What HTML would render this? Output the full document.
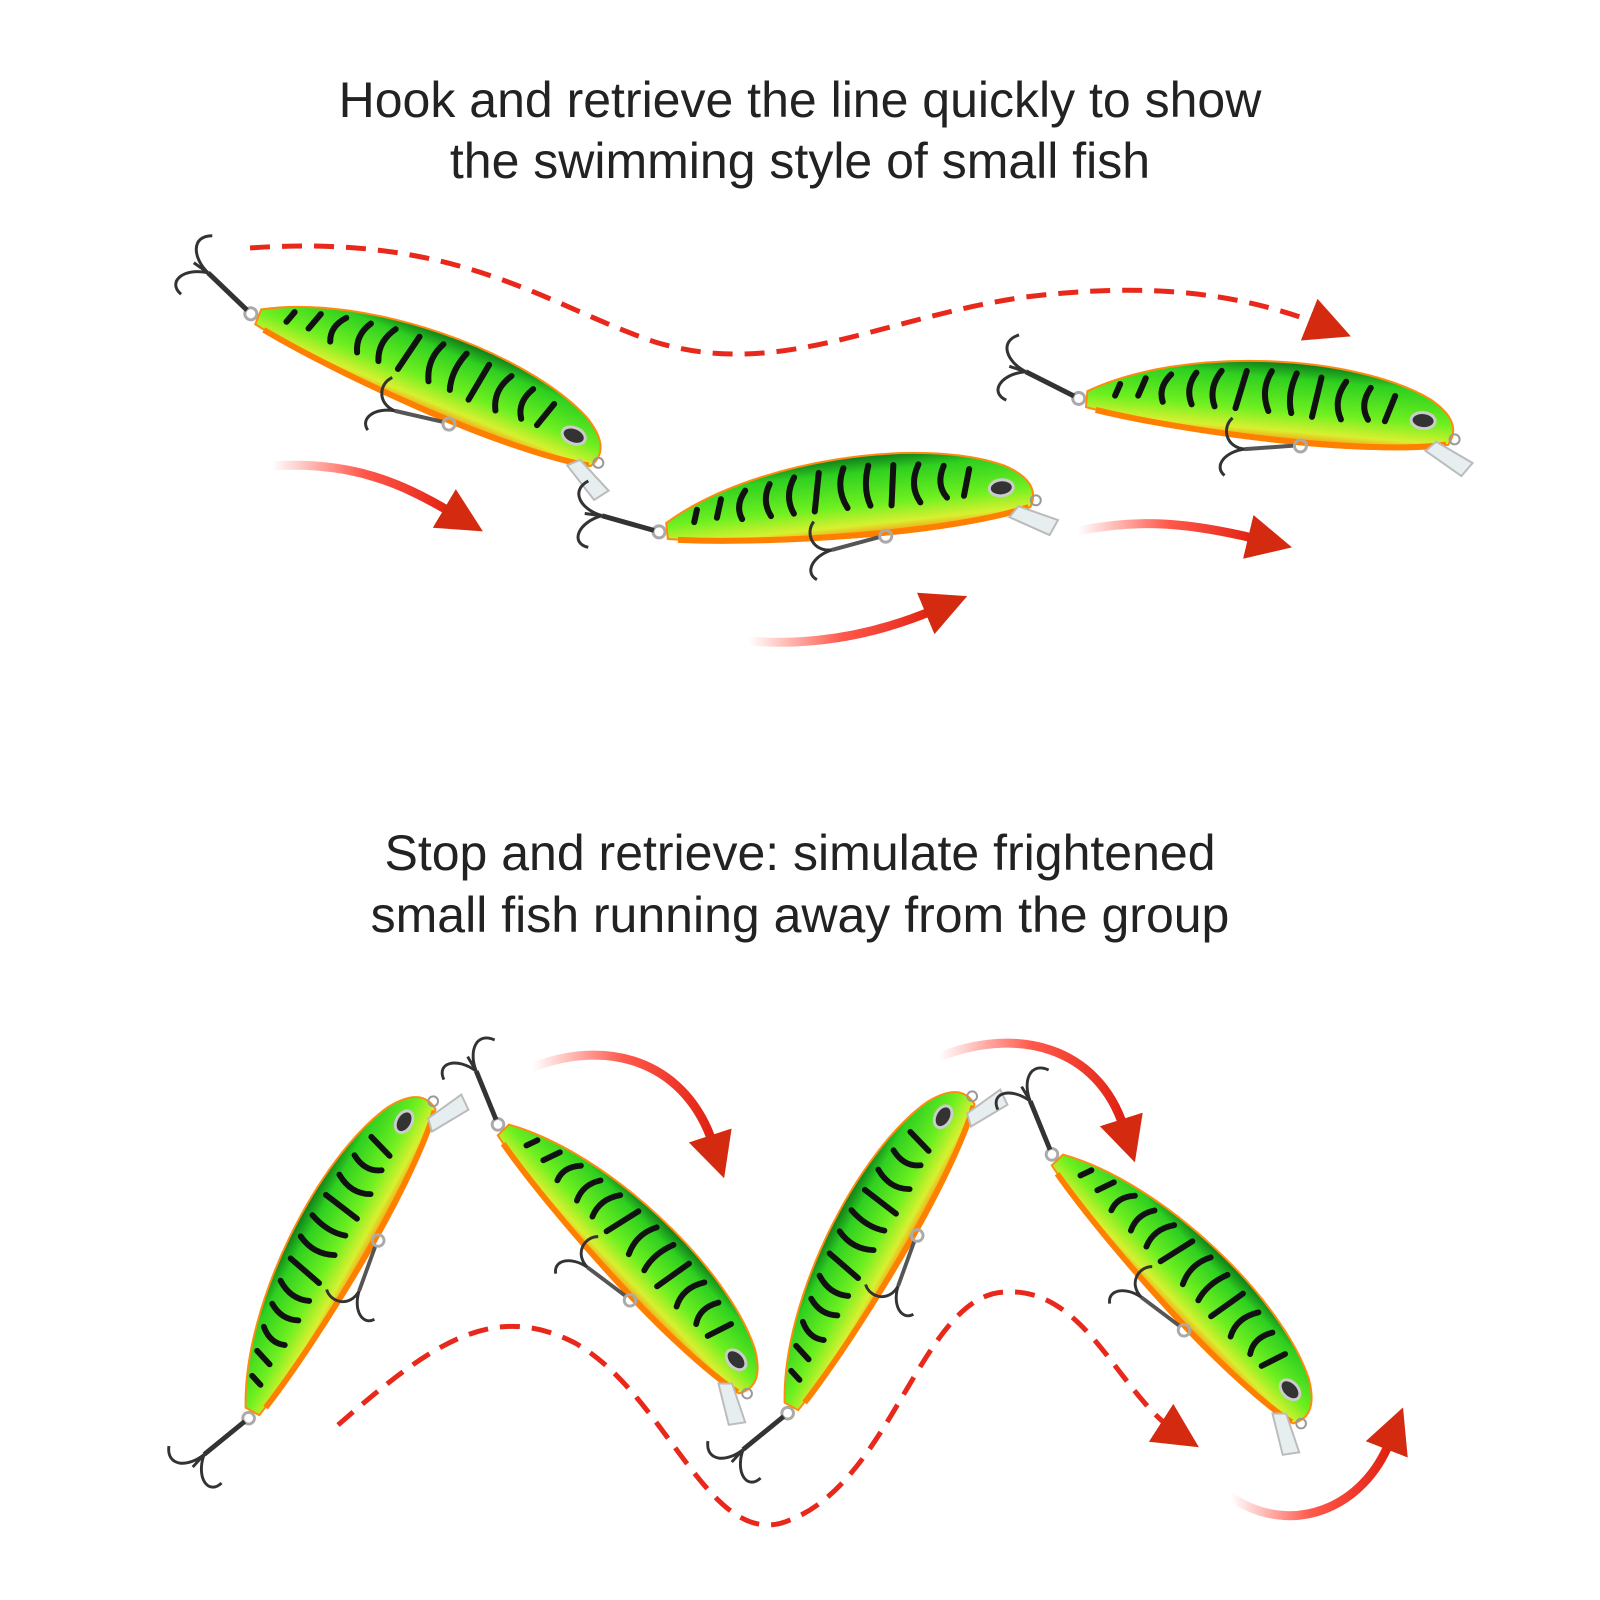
<!DOCTYPE html>
<html><head><meta charset="utf-8"><style>
html,body{margin:0;padding:0;background:#fff;}
svg{display:block}
text{font-family:"Liberation Sans",sans-serif;fill:#222;font-size:50px;text-anchor:middle}
</style></head><body>
<svg width="1600" height="1600" viewBox="0 0 1600 1600" xmlns="http://www.w3.org/2000/svg">
<defs>
<linearGradient id="bg" x1="0" y1="0" x2="0" y2="1">
<stop offset="0" stop-color="#0e7a1a"/><stop offset="0.2" stop-color="#2fd020"/><stop offset="0.6" stop-color="#6ef020"/><stop offset="0.85" stop-color="#d8f030"/><stop offset="1" stop-color="#ff8a10"/>
</linearGradient>
<linearGradient id="ag" x1="0" y1="0" x2="1" y2="0">
<stop offset="0" stop-color="#ff3020" stop-opacity="0"/><stop offset="0.5" stop-color="#ff3020" stop-opacity="0.8"/><stop offset="1" stop-color="#e02010"/>
</linearGradient>
<g id="lure">
<circle cx="-190" cy="0" r="6" fill="none" stroke="#aaa" stroke-width="3"/>
<path d="M-195,-2 L-245,-22" stroke="#333" stroke-width="5"/>
<path d="M-245,-22 L-262,-26 M-245,-22 C-265,-30 -275,-50 -255,-58 M-245,-22 C-270,-18 -280,2 -262,8" stroke="#333" stroke-width="3" fill="none"/>
<path d="M-182,-8 C-90,-62 80,-68 160,-30 Q196,-10 182,14 C100,36 -80,26 -182,8 Z" fill="url(#bg)" stroke="#ff8a10" stroke-width="2"/>
<path d="M-172,10 C-80,24 100,32 180,14" stroke="#ff8000" stroke-width="6" fill="none"/>
<g stroke="#111" stroke-width="6" fill="none" stroke-linecap="round">
<path d="M-150,-18 l-4,12"/><path d="M-125,-26 l-6,18"/><path d="M-100,-32 q-12,14 -6,28"/>
<path d="M-75,-36 q-10,16 -2,32"/><path d="M-50,-40 q-12,18 -4,36"/><path d="M-25,-42 l-8,38"/>
<path d="M0,-44 q-10,20 0,40"/><path d="M25,-44 q-8,22 -2,40"/><path d="M50,-42 l-6,40"/>
<path d="M75,-40 q-12,20 -2,38"/><path d="M100,-36 q-10,18 0,32"/><path d="M125,-30 l-8,26"/>
</g>
<ellipse cx="155" cy="-8" rx="12" ry="8" fill="#333" stroke="#ccc" stroke-width="3"/>
<path d="M170,12 L208,30 L198,44 L160,22 Z" fill="#e6eef0" stroke="#bbb" stroke-width="2"/>
<circle cx="188" cy="8" r="5" fill="none" stroke="#999" stroke-width="2"/>
<path d="M30,28 L-20,36" stroke="#555" stroke-width="4"/>
<circle cx="35" cy="28" r="6" fill="none" stroke="#aaa" stroke-width="3"/>
<path d="M-20,36 C-40,36 -45,16 -35,6 M-20,36 C-40,40 -50,56 -38,64" stroke="#333" stroke-width="3" fill="none"/>
</g>
<marker id="ah" viewBox="0 0 10 10" refX="5" refY="5" markerWidth="9" markerHeight="9" orient="auto" markerUnits="strokeWidth"><path d="M0,0 L10,5 L0,10 Z" fill="#d42a10"/></marker>
<marker id="ah2" viewBox="0 0 10 10" refX="2" refY="5" markerWidth="5" markerHeight="5" orient="auto" markerUnits="strokeWidth"><path d="M0,0 L10,5 L0,10 Z" fill="#d42a10"/></marker>
</defs>
<text x="800" y="117">Hook and retrieve the line quickly to show</text>
<text x="800" y="178">the swimming style of small fish</text>
<text x="800" y="870">Stop and retrieve: simulate frightened</text>
<text x="800" y="932">small fish running away from the group</text>

<path d="M250,248 C460,233 545,305 655,342 C780,380 880,318 1025,297 C1150,282 1240,292 1330,328" stroke="#e8281a" stroke-width="5" stroke-dasharray="20 12" fill="none" marker-end="url(#ah)"/>
<path d="M338,1425 C430,1345 492,1300 575,1343 C668,1395 710,1555 790,1520 C893,1480 922,1295 1005,1292 C1087,1287 1118,1395 1180,1435" stroke="#e8281a" stroke-width="5" stroke-dasharray="20 12" fill="none" marker-end="url(#ah)"/>

<g fill="none" stroke="url(#ag)" stroke-width="9" stroke-linecap="round">
<path d="M272,466 C350,461 400,482 452,513" marker-end="url(#ah2)"/>
<path d="M749,641 C810,646 872,636 934,610" marker-end="url(#ah2)"/>
<path d="M1078,531 C1140,518 1190,523 1257,539" marker-end="url(#ah2)"/>
<path d="M533,1067 C615,1036 688,1067 713,1144" marker-end="url(#ah2)"/>
<path d="M939,1057 C1016,1026 1098,1046 1124,1128" marker-end="url(#ah2)"/>
<path d="M1231,1497 C1292,1538 1364,1508 1390,1441" marker-end="url(#ah2)"/>
</g>

<use href="#lure" transform="translate(427,385) rotate(22)"/>
<use href="#lure" transform="translate(848,512) rotate(-6)"/>
<use href="#lure" transform="translate(1268,415) rotate(5)"/>
<use href="#lure" transform="translate(338,1257) rotate(-61) scale(0.97)"/>
<use href="#lure" transform="translate(626,1257) rotate(46) scale(0.97)"/>
<use href="#lure" transform="translate(877,1252) rotate(-61) scale(0.97)"/>
<use href="#lure" transform="translate(1180,1287) rotate(46) scale(0.97)"/>
</svg>
</body></html>
